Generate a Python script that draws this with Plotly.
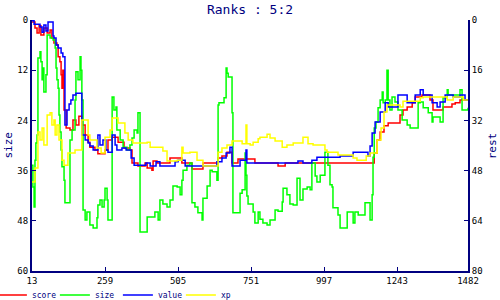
import plotly.graph_objects as go

# ---- data (x = step index, y = rank) ----
score_x = [13,23,30,37,43,53,64,74,80,87,97,101,107,111,114,117,121,128,141,151,161,171,181,192,202,208,225,235,259,269,283,303,323,343,350,370,394,401,417,421,434,461,478,495,518,552,589,640,653,670,687,707,764,842,866,1159,1166,1176,1186,1199,1213,1253,1263,1277,1294,1304,1327,1354,1364,1398,1428,1439,1455,1482]
score_y = [0.5,1.9,3.1,1.4,3.6,1.9,3.1,2.4,4.3,5.5,6.0,8.8,10.0,13.1,16.3,12.0,21.5,25.8,26.3,23.9,25.1,23.0,25.1,27.5,29.2,30.4,31.1,32.0,31.1,28.7,28.0,29.2,30.6,31.1,34.2,34.9,34.2,35.4,35.9,33.7,34.2,34.2,33.0,33.0,34.2,35.6,34.2,33.0,32.5,31.6,34.2,33.2,34.2,34.9,34.2,34.2,31.8,28.7,26.8,25.3,24.6,22.7,21.5,20.8,19.8,18.4,17.9,19.1,21.5,20.8,20.1,19.8,19.1,19.1]

size_x = [13,16,20,23,26,30,33,40,43,47,50,53,60,64,74,84,91,94,97,101,104,107,111,114,121,124,141,148,158,161,168,175,178,181,185,192,198,208,219,232,235,242,249,256,259,266,269,283,289,296,299,310,320,333,343,350,357,367,370,377,401,427,438,444,454,468,478,488,502,512,518,522,535,545,552,562,572,586,589,603,613,620,636,640,643,660,667,670,674,687,690,714,721,731,734,737,741,758,764,775,781,791,805,815,832,842,856,859,872,882,893,906,916,926,940,950,956,967,973,984,1000,1010,1017,1024,1027,1044,1051,1075,1095,1101,1112,1135,1152,1159,1162,1166,1172,1179,1186,1193,1196,1203,1209,1213,1219,1226,1236,1246,1260,1277,1287,1314,1321,1331,1348,1361,1364,1388,1398,1412,1415,1455,1462,1482]
size_y = [34.7,39.9,44.7,33.5,29.4,27.5,9.1,7.6,10.0,14.3,11.5,17.2,13.1,3.6,4.3,4.8,6.7,11.5,14.3,16.3,22.7,26.8,31.1,35.1,38.3,43.7,28.7,26.3,19.1,12.4,14.3,8.8,12.0,19.1,45.4,47.8,45.9,49.0,49.7,47.3,44.2,43.0,44.7,43.0,40.2,43.0,47.8,18.4,21.5,20.8,26.3,28.7,30.4,31.1,29.9,28.2,26.3,27.0,22.2,50.7,47.1,45.9,47.8,43.0,44.0,44.7,43.0,39.7,39.9,41.8,38.3,35.9,34.7,34.2,43.7,44.7,46.1,47.8,42.6,39.7,35.9,36.3,38.3,20.3,19.8,18.6,11.5,12.7,13.6,22.2,46.1,41.4,40.6,31.8,37.1,42.1,44.0,45.9,48.5,45.9,47.6,48.5,49.0,47.8,45.4,45.7,43.5,40.2,41.8,44.0,44.2,37.8,43.0,40.4,39.9,40.6,34.2,37.3,38.7,37.1,31.6,34.7,39.4,39.9,44.9,46.6,49.7,45.9,48.5,45.9,46.6,43.7,47.8,41.8,32.8,25.8,24.4,21.0,19.1,17.2,19.8,19.1,12.0,19.1,21.5,18.4,19.6,21.5,23.9,25.1,25.8,19.8,19.6,21.0,22.2,24.4,23.2,24.4,18.6,16.7,17.9,16.7,21.5,21.0,21.0]

value_x = [13,20,40,47,53,60,67,84,87,94,101,111,117,124,131,138,144,151,161,181,192,202,208,219,235,242,252,262,269,283,293,299,316,330,347,357,377,397,411,431,444,495,505,529,636,653,667,680,687,714,734,737,909,926,956,973,1051,1095,1145,1152,1159,1169,1186,1203,1213,1246,1277,1304,1321,1331,1361,1378,1388,1405,1432,1455,1472,1482]
value_y = [0.2,1.0,1.7,2.9,1.2,2.6,0.5,3.8,4.3,6.0,6.7,7.9,8.8,25.1,21.5,20.1,19.1,17.9,17.5,27.5,28.7,29.4,30.1,31.1,27.5,29.9,28.7,31.1,31.6,27.5,29.9,31.1,30.6,31.1,33.0,34.7,34.7,34.2,34.9,33.9,34.9,33.9,33.5,34.9,33.9,33.0,31.8,30.4,34.9,33.5,31.1,34.2,33.7,34.2,33.5,32.8,32.5,31.6,32.5,30.1,27.0,24.4,22.0,19.8,20.8,17.9,19.8,17.9,16.7,17.9,19.8,20.8,19.6,17.9,18.4,17.9,19.1,19.1]

xp_x = [13,23,33,40,47,53,64,74,80,87,91,97,104,114,121,134,158,181,202,208,232,246,259,276,283,303,326,337,353,401,411,454,468,502,518,522,545,569,589,640,653,670,687,721,734,737,748,758,775,781,805,815,832,856,872,893,926,943,960,1000,1007,1044,1095,1108,1139,1152,1176,1189,1199,1209,1253,1263,1297,1321,1331,1412,1432,1466,1482]
xp_y = [38.7,35.4,26.8,28.7,25.8,29.9,22.7,22.2,25.1,23.9,27.5,25.1,28.7,33.5,34.7,31.8,31.1,23.9,27.5,28.7,30.6,31.8,28.0,26.3,23.4,24.6,27.0,28.7,29.4,29.2,30.4,31.3,33.7,33.5,30.4,31.8,31.6,33.5,34.9,31.6,30.6,29.9,28.9,29.6,25.1,29.6,29.9,29.2,28.4,28.0,27.3,28.2,28.9,30.4,29.9,29.4,28.0,29.6,29.9,31.1,31.6,32.3,33.0,33.5,32.5,31.8,28.7,25.8,22.0,20.3,20.8,19.4,19.4,18.6,18.4,19.1,18.4,19.1,19.1]

x_ticks = [13, 259, 505, 751, 997, 1243, 1482]
left_ticks = [0, 12, 24, 36, 48, 60]
right_ticks = [0, 16, 32, 48, 64, 80]

NAVY = "#000080"
FONT = "DejaVu Sans Mono"

series = [
    ("score", score_x, score_y, "#ff0000"),
    ("size", size_x, size_y, "#00ff00"),
    ("value", value_x, value_y, "#0000ff"),
    ("xp", xp_x, xp_y, "#ffff00"),
]

fig = go.Figure()
for name, xs, ys, col in series:
    fig.add_trace(go.Scatter(x=xs, y=ys, name=name, mode="lines",
                             line=dict(color=col, width=1.5, shape="hv")))
# empty trace so the right-hand "rest" axis is drawn
fig.add_trace(go.Scatter(x=[], y=[], yaxis="y2", showlegend=False, hoverinfo="skip"))

axis_common = dict(showgrid=False, zeroline=False, showline=True, linecolor=NAVY,
                   linewidth=2, ticks="inside", ticklen=4, tickcolor=NAVY, tickwidth=1,
                   tickfont=dict(family=FONT, size=9, color="black"))

fig.update_layout(
    width=500, height=300,
    margin=dict(l=32, r=32, t=20, b=29, autoexpand=False),
    paper_bgcolor="white", plot_bgcolor="white",
    title=dict(text="Ranks : 5:2", x=0.5, xref="container", xanchor="center",
               y=1 - 9 / 300, yref="container", yanchor="middle",
               font=dict(family=FONT, size=13, color=NAVY)),
    xaxis=dict(range=[13, 1482], tickvals=x_ticks, ticktext=[str(v) for v in x_ticks],
               **axis_common),
    yaxis=dict(range=[60, 0], tickvals=left_ticks, ticktext=[str(v) for v in left_ticks],
               **axis_common),
    yaxis2=dict(range=[80, 0], overlaying="y", side="right", tickvals=right_ticks,
                ticktext=[str(v) for v in right_ticks], **axis_common),
    showlegend=True,
    legend=dict(orientation="h", x=-0.092, xanchor="left", y=-0.096, yanchor="middle",
                font=dict(family=FONT, size=8, color=NAVY), itemwidth=30,
                entrywidth=18, entrywidthmode="pixels",
                bgcolor="rgba(0,0,0,0)", tracegroupgap=0),
    annotations=[
        dict(text="size", x=-0.055, y=0.5, xref="paper", yref="paper", showarrow=False,
             xanchor="center", yanchor="middle",
             textangle=-90, font=dict(family=FONT, size=11, color=NAVY)),
        dict(text="rest", x=1.057, y=0.5, xref="paper", yref="paper", showarrow=False,
             xanchor="center", yanchor="middle",
             textangle=-90, font=dict(family=FONT, size=11, color=NAVY)),
    ],
)

fig.write_html("out.html")
